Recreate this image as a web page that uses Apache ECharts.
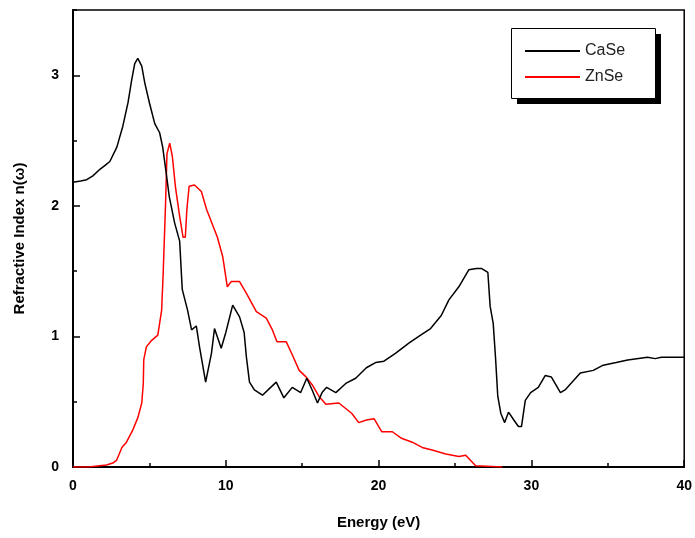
<!DOCTYPE html>
<html>
<head>
<meta charset="utf-8">
<script src="https://cdn.jsdelivr.net/npm/echarts@6/dist/echarts.min.js"></script>
<style>html,body{margin:0;padding:0;background:#fff}#c{width:695px;height:538px}</style>
</head>
<body>
<div id="c"></div>
<script>
const xTicks = [0, 10, 20, 30, 40];
const yTicks = [0, 1, 2, 3];
const caseX = [0,0.5,0.9,1.3,1.76,2.1,2.41,2.87,3.26,3.6,3.85,4.04,4.24,4.5,4.7,5.0,5.35,5.67,5.87,6.1,6.3,6.65,6.98,7.15,7.5,7.76,8.07,8.28,8.68,9.06,9.26,9.7,10.0,10.45,10.9,11.2,11.35,11.55,11.87,12.4,12.85,13.3,13.8,14.35,14.9,15.3,15.65,16.0,16.3,16.6,17.2,17.85,18.5,19.2,19.8,20.35,21.1,22.0,22.75,23.4,24.1,24.6,25.25,25.9,26.4,26.75,27.15,27.3,27.5,27.65,27.8,28.0,28.25,28.5,28.85,29.15,29.35,29.6,29.95,30.45,30.9,31.3,31.9,32.2,33.2,34.05,34.7,35.55,36.3,37.6,38.1,38.5,40];
const caseY = [2.18,2.19,2.2,2.23,2.28,2.31,2.34,2.45,2.61,2.79,2.97,3.09,3.13,3.07,2.94,2.79,2.63,2.56,2.45,2.25,2.07,1.87,1.73,1.36,1.2,1.05,1.08,0.92,0.65,0.87,1.06,0.91,1.03,1.24,1.15,1.03,0.84,0.65,0.59,0.55,0.6,0.65,0.53,0.61,0.57,0.68,0.59,0.49,0.57,0.61,0.57,0.64,0.68,0.76,0.8,0.81,0.87,0.95,1.01,1.06,1.16,1.28,1.38,1.51,1.52,1.52,1.49,1.23,1.1,0.84,0.54,0.41,0.34,0.42,0.36,0.31,0.31,0.51,0.57,0.61,0.7,0.69,0.57,0.59,0.72,0.74,0.78,0.8,0.82,0.84,0.83,0.84,0.84];
const znseX = [0,1,2.2,2.6,2.85,3.2,3.5,3.9,4.25,4.5,4.6,4.63,4.8,5.15,5.55,5.8,5.9,6.05,6.15,6.33,6.5,6.7,6.98,7.2,7.35,7.45,7.6,7.95,8.4,8.75,9.15,9.45,9.8,10.1,10.35,10.9,11.35,12.0,12.65,13.05,13.35,13.95,14.35,14.8,15.25,15.65,16.1,16.55,17.4,18.25,18.7,19.2,19.7,20.2,20.9,21.5,22.2,22.85,23.5,24.4,25.25,25.7,26.35,28.1];
const znseY = [0,0,0.015,0.03,0.05,0.15,0.19,0.28,0.38,0.49,0.64,0.82,0.92,0.97,1.01,1.2,1.48,1.99,2.4,2.48,2.38,2.15,1.92,1.76,1.76,1.97,2.15,2.16,2.11,1.97,1.85,1.76,1.61,1.38,1.42,1.42,1.33,1.19,1.14,1.05,0.96,0.96,0.86,0.74,0.69,0.63,0.54,0.48,0.49,0.41,0.34,0.36,0.37,0.27,0.27,0.22,0.19,0.15,0.13,0.1,0.08,0.09,0.01,0];

const pair = (xs, ys) => xs.map((x, i) => [x, ys[i]]);
const font = '"Liberation Sans", Arial, sans-serif';
const chart = echarts.init(document.getElementById('c'), null, {renderer: 'canvas'});
chart.setOption({
  animation: false,
  backgroundColor: '#fff',
  grid: {left: 73, right: 9, top: 10, bottom: 71, show: true, borderColor: '#000', borderWidth: 1.5, backgroundColor: 'transparent'},
  graphic: [
    {type: 'rect', left: 517, top: 34, z: 100, shape: {width: 144, height: 70}, style: {fill: '#000'}},
    {type: 'rect', left: 511, top: 28, z: 101, shape: {width: 144, height: 70}, style: {fill: '#fff', stroke: '#000', lineWidth: 1}}
  ],
  legend: {
    left: 525, top: 43, orient: 'vertical', z: 110,
    padding: 0, itemWidth: 55, itemHeight: 2, itemGap: 10,
    icon: 'rect',
    textStyle: {fontFamily: font, fontSize: 16, color: '#222', padding: [0, 0, 0, 0], lineHeight: 16},
    data: [{name: 'CaSe', itemStyle: {color: '#000'}}, {name: 'ZnSe', itemStyle: {color: '#ff0000'}}]
  },
  xAxis: {
    type: 'value', min: xTicks[0], max: xTicks[xTicks.length - 1], interval: 10,
    name: 'Energy (eV)', nameLocation: 'middle', nameGap: 48,
    nameTextStyle: {fontFamily: font, fontSize: 15, fontWeight: 'bold', color: '#000'},
    axisLine: {show: true, lineStyle: {color: '#000', width: 2}},
    axisTick: {show: true, inside: true, length: 7, lineStyle: {color: '#000', width: 1.5}},
    minorTick: {show: true, splitNumber: 2, length: 4, lineStyle: {color: '#000', width: 1.5}},
    axisLabel: {margin: 12, fontFamily: font, fontSize: 14, fontWeight: 'bold', color: '#000',
      formatter: v => xTicks.includes(v) ? String(v) : ''},
    splitLine: {show: false}
  },
  yAxis: [{
    type: 'value', min: 0, max: 3.5, interval: 1,
    name: 'Refractive Index n(ω)', nameLocation: 'middle', nameGap: 46,
    nameTextStyle: {fontFamily: font, fontSize: 15, fontWeight: 'bold', color: '#000'},
    axisLine: {show: true, lineStyle: {color: '#000', width: 2}},
    axisTick: {show: true, inside: true, length: 7, lineStyle: {color: '#000', width: 1.5}},
    axisLabel: {margin: 14, showMaxLabel: false, fontFamily: font, fontSize: 14, fontWeight: 'bold', color: '#000',
      formatter: v => yTicks.includes(v) ? String(v) : ''},
    splitLine: {show: false}
  }, {
    type: 'value', min: 0, max: 3.5, interval: 0.5, position: 'left',
    axisLine: {show: false},
    axisTick: {show: true, inside: true, length: 4, lineStyle: {color: '#000', width: 1.5}},
    axisLabel: {show: false},
    splitLine: {show: false}
  }],
  series: [{
    name: 'CaSe', type: 'line', symbol: 'none', data: pair(caseX, caseY),
    lineStyle: {color: '#000', width: 1.5}, itemStyle: {color: '#000'}, z: 3
  }, {
    name: 'ZnSe', type: 'line', symbol: 'none', data: pair(znseX, znseY),
    lineStyle: {color: '#ff0000', width: 1.5}, itemStyle: {color: '#ff0000'}, z: 2
  }]
});
</script>
</body>
</html>
